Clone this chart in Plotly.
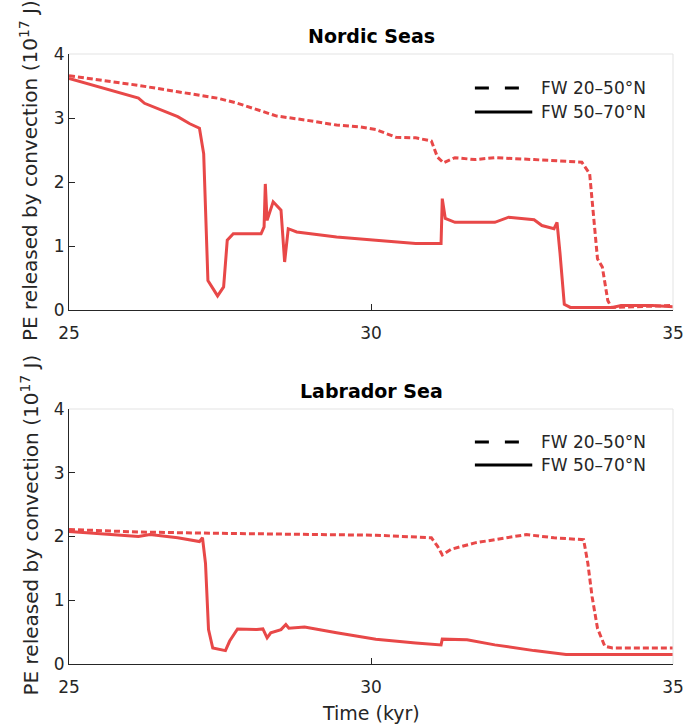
import plotly.graph_objects as go

# ---- data ----
nordic_50_70_t = [25.0, 26.15, 26.25, 26.8, 27.0, 27.16, 27.23, 27.30, 27.46, 27.56, 27.62, 27.72,
                  28.18, 28.23, 28.25, 28.28, 28.38, 28.51, 28.57, 28.63, 28.77, 29.43, 30.08, 30.74,
                  31.16, 31.18, 31.23, 31.39, 32.05, 32.28, 32.70, 32.83, 33.03, 33.08, 33.13, 33.20,
                  33.30, 34.0, 34.14, 34.66, 35.0]
nordic_50_70_v = [3.62, 3.31, 3.23, 3.02, 2.91, 2.84, 2.44, 0.46, 0.22, 0.36, 1.09, 1.19,
                  1.19, 1.30, 1.97, 1.40, 1.69, 1.56, 0.75, 1.27, 1.22, 1.14, 1.09, 1.04,
                  1.04, 1.74, 1.43, 1.37, 1.37, 1.45, 1.41, 1.32, 1.27, 1.37, 0.88, 0.09,
                  0.04, 0.04, 0.07, 0.07, 0.05]

nordic_20_50_t = [25.0, 26.15, 26.8, 27.46, 27.79, 28.18, 28.44, 28.9, 29.43, 29.82, 30.08, 30.41,
                  30.74, 31.0, 31.1, 31.2, 31.39, 31.72, 32.05, 32.7, 33.49, 33.62, 33.69, 33.75,
                  33.83, 33.92, 33.98, 34.34, 35.0]
nordic_20_50_v = [3.66, 3.51, 3.41, 3.31, 3.23, 3.11, 3.03, 2.97, 2.89, 2.86, 2.82, 2.70,
                  2.69, 2.64, 2.39, 2.30, 2.38, 2.35, 2.38, 2.35, 2.31, 2.13, 1.40, 0.80,
                  0.67, 0.15, 0.04, 0.05, 0.07]

lab_50_70_t = [25.0, 25.49, 26.15, 26.34, 26.8, 27.16, 27.21, 27.26, 27.31, 27.38, 27.59, 27.66,
               27.79, 28.11, 28.21, 28.28, 28.34, 28.51, 28.59, 28.64, 28.9, 29.43, 30.08, 30.74,
               31.16, 31.18, 31.59, 32.05, 32.7, 33.23, 34.0, 35.0]
lab_50_70_v = [2.08, 2.05, 2.00, 2.03, 1.98, 1.92, 1.98, 1.58, 0.54, 0.25, 0.21, 0.36,
               0.55, 0.54, 0.55, 0.41, 0.49, 0.54, 0.62, 0.56, 0.58, 0.49, 0.39, 0.33,
               0.30, 0.39, 0.38, 0.30, 0.21, 0.15, 0.15, 0.15]

lab_20_50_t = [25.0, 26.15, 27.46, 28.77, 30.08, 31.0, 31.1, 31.18, 31.33, 31.72, 32.05, 32.57,
               33.03, 33.52, 33.59, 33.66, 33.75, 33.87, 34.0, 35.0]
lab_20_50_v = [2.11, 2.07, 2.05, 2.04, 2.02, 1.98, 1.85, 1.71, 1.80, 1.90, 1.95, 2.03,
               1.98, 1.95, 1.58, 1.06, 0.56, 0.28, 0.25, 0.25]

titles = ["Nordic Seas", "Labrador Sea"]
legend_names = ["FW 20–50°N", "FW 50–70°N"]
x_ticks = [25, 30, 35]
y_ticks = [0, 1, 2, 3, 4]
y_title = "PE released by convection (10<sup>17</sup> J)"
x_title = "Time (kyr)"

RED = "#E84848"
FONT = "DejaVu Sans"
AX = "#262626"

fig = go.Figure()

panels = [
    (nordic_20_50_t, nordic_20_50_v, nordic_50_70_t, nordic_50_70_v, "x", "y"),
    (lab_20_50_t, lab_20_50_v, lab_50_70_t, lab_50_70_v, "x2", "y2"),
]
for dt, dv, st, sv, xa, ya in panels:
    fig.add_trace(go.Scatter(x=dt, y=dv, mode="lines", xaxis=xa, yaxis=ya, showlegend=False,
                             line=dict(color=RED, width=3, dash="6px,3px")))
    fig.add_trace(go.Scatter(x=st, y=sv, mode="lines", xaxis=xa, yaxis=ya, showlegend=False,
                             line=dict(color=RED, width=3)))

axis_common = dict(range=[25, 35], tickvals=x_ticks, ticks="inside", ticklen=6, tickcolor=AX,
                   showline=True, linecolor=AX, linewidth=1, showgrid=False, zeroline=False,
                   ticklabelstandoff=8, automargin=False,
                   tickfont=dict(family=FONT, size=17, color=AX))
yaxis_common = dict(range=[0, 4], tickvals=y_ticks, ticks="inside", ticklen=6, tickcolor=AX,
                    showline=True, linecolor=AX, linewidth=1, showgrid=False, zeroline=False,
                    automargin=False,
                    tickfont=dict(family=FONT, size=17, color=AX))

top_dom = [1 - 256 / 610, 1]
bot_dom = [0, 1 - 355 / 610]

fig.update_layout(
    width=684, height=724, autosize=False,
    margin=dict(l=69, r=11, t=54, b=60, autoexpand=False),
    paper_bgcolor="white", plot_bgcolor="white",
    showlegend=False,
    xaxis=dict(**axis_common, anchor="y", domain=[0, 1]),
    yaxis=dict(**yaxis_common, anchor="x", domain=top_dom),
    xaxis2=dict(**axis_common, anchor="y2", domain=[0, 1]),
    yaxis2=dict(**yaxis_common, anchor="x2", domain=bot_dom),
)

# light box lines (top/right), legends, titles, axis titles
for i, (xa, ya) in enumerate([("x", "y"), ("x2", "y2")]):
    xd, yd = f"{xa} domain", f"{ya} domain"
    fig.add_shape(type="line", xref=xd, yref=yd, x0=0, x1=1, y0=1, y1=1,
                  line=dict(color="#E3E3E3", width=1))
    fig.add_shape(type="line", xref=xd, yref=yd, x0=1, x1=1, y0=0, y1=1,
                  line=dict(color="#E3E3E3", width=1))
    ly = [0.867, 0.773] if i == 0 else [0.871, 0.780]
    for j, (name, dash) in enumerate(zip(legend_names, ["14px,16px", "solid"])):
        fig.add_shape(type="line", xref=xd, yref=yd, x0=0.672, x1=0.767, y0=ly[j], y1=ly[j],
                      line=dict(color="black", width=3, dash=dash))
        fig.add_annotation(xref=xd, yref=yd, x=0.778, y=ly[j], text=name, showarrow=False,
                           xanchor="left", yanchor="middle",
                           font=dict(family=FONT, size=17, color=AX))
    fig.add_annotation(xref=xd, yref=yd, x=0.5, y=1, yshift=5, text=f"<b>{titles[i]}</b>",
                       showarrow=False, xanchor="center", yanchor="bottom",
                       font=dict(family=FONT, size=19, color="black"))
    fig.add_annotation(xref="paper", yref=yd, x=(29 - 69) / 604, y=0.5, yshift=11,
                       text=y_title, textangle=-90, showarrow=False,
                       xanchor="center", yanchor="middle",
                       font=dict(family=FONT, size=20, color=AX))

fig.add_annotation(xref="x2 domain", yref="y2 domain", x=0.5, y=0, yshift=-49,
                   text=x_title, showarrow=False, xanchor="center", yanchor="middle",
                   font=dict(family=FONT, size=19, color=AX))

fig.write_html("out.html", config={"displayModeBar": False},
               post_script="document.body.style.margin='0';")
